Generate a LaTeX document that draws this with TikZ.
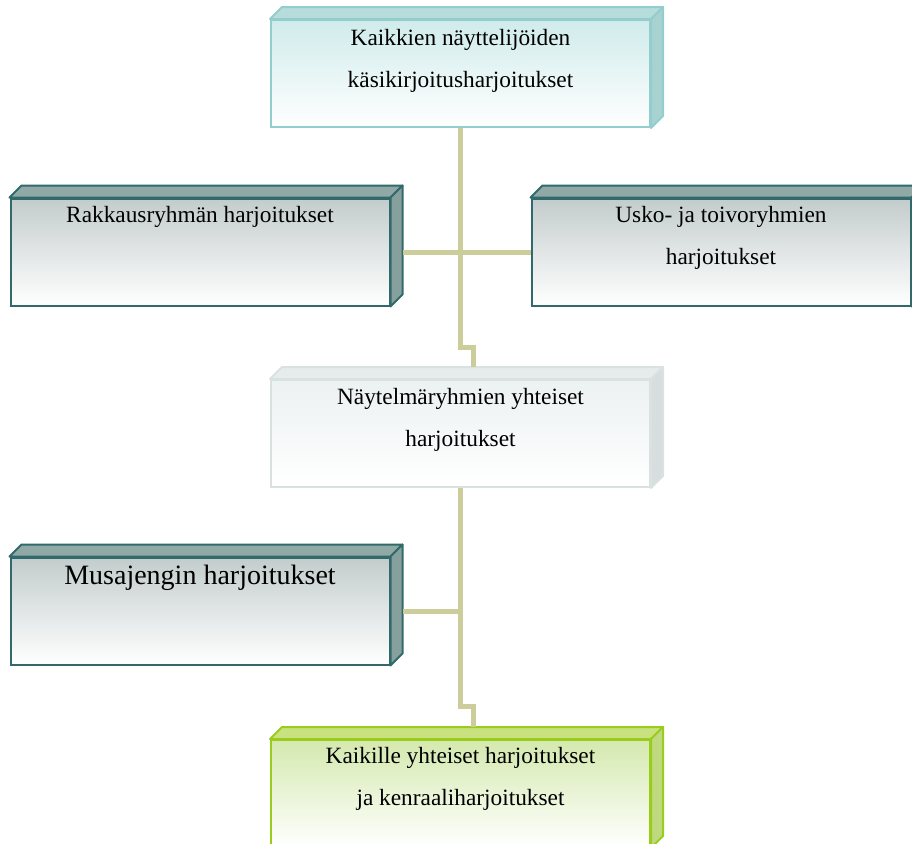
\documentclass[tikz,border=0pt]{standalone}
\usepackage{fontspec}
\setmainfont{Liberation Serif}
\usetikzlibrary{positioning, calc}

\definecolor{linkc}{HTML}{CDCC9B}
\definecolor{tealline}{HTML}{93CDCD}
\definecolor{tealtop}{HTML}{B6DDDC}
\definecolor{tealside}{HTML}{A8D2D1}
\definecolor{tealfront}{HTML}{D0EBEB}
\definecolor{darkline}{HTML}{32696A}
\definecolor{darktop}{HTML}{90A9A7}
\definecolor{darkside}{HTML}{86A09E}
\definecolor{darkfront}{HTML}{C3CCCC}
\definecolor{greyline}{HTML}{DAE1E1}
\definecolor{greytop}{HTML}{E6ECEC}
\definecolor{greyside}{HTML}{D8DEDE}
\definecolor{greyfront}{HTML}{ECF1F2}
\definecolor{greenline}{HTML}{9ACC1E}
\definecolor{greentop}{HTML}{C9E17E}
\definecolor{greenside}{HTML}{BFD97F}
\definecolor{greenfront}{HTML}{D4E9AE}

\newcommand{\slabtext}[3][17.5pt]{\parbox[c][80.25pt][t]{284.25pt}{\centering\fontsize{#1}{31.5pt}\selectfont\rule{0pt}{#2}#3}}
\newcommand{\slabfaces}[4]{% node, top face, side face, line
	\filldraw[draw=#4, fill=#2, line width=1.5pt, line join=round]
		(#1.north west) -- ++(12,-12) -- ($(#1.north east)+(12,-12)$) -- (#1.north east) -- cycle;
	\filldraw[draw=#4, fill=#3, line width=1.5pt, line join=round]
		(#1.north east) -- ++(12,-12) -- ($(#1.south east)+(12,-12)$) -- (#1.south east) -- cycle;
}

\tikzset{
	slab/.style={rectangle, inner sep=0pt, line width=1.5pt, bottom color=white},
	link/.style={draw=linkc, line width=3.75pt},
}

\begin{document}
\begin{tikzpicture}[x=0.75pt, y=-0.75pt, node distance=188.25pt]
	\useasboundingbox (0,0) rectangle (912,843);
	\clip (0,0) rectangle (912,843);

	\node[slab, draw=tealline, top color=tealfront]		(top)	at (460.5,73.5)		{\slabtext{19pt}{Kaikkien näyttelijöiden\\ käsikirjoitusharjoitukset}};
	\node[slab, draw=darkline, top color=darkfront]		(rak)	at (200,252)		{\slabtext{18.25pt}{Rakkausryhmän harjoitukset}};
	\node[slab, draw=darkline, top color=darkfront]		(usk)	at (721,252)		{\slabtext{18.25pt}{Usko- ja toivoryhmien\\ harjoitukset}};
	\node[slab, draw=greyline, top color=greyfront]		(nay)	[below=of top]		{\slabtext{18.25pt}{Näytelmäryhmien yhteiset\\ harjoitukset}};
	\node[slab, draw=darkline, top color=darkfront]		(mus)	at (200,611)		{\slabtext[21pt]{20.5pt}{Musajengin harjoitukset}};
	\node[slab, draw=greenline, top color=greenfront]	(kai)	[below=of nay]		{\slabtext{17.5pt}{Kaikille yhteiset harjoitukset\\ ja kenraaliharjoitukset}};

	\slabfaces{top}{tealtop}{tealside}{tealline}
	\slabfaces{rak}{darktop}{darkside}{darkline}
	\slabfaces{usk}{darktop}{darkside}{darkline}
	\slabfaces{nay}{greytop}{greyside}{greyline}
	\slabfaces{mus}{darktop}{darkside}{darkline}
	\slabfaces{kai}{greentop}{greenside}{greenline}

	\coordinate (j1) at ($(nay.north)+(13,-12)$);
	\coordinate (j2) at ($(kai.north)+(13,-12)$);

	% connectors
	\draw[link] (top.south) -- ++(0,219) -| (j1);
	\draw[link] ($(rak.east)+(12,0)$) -- (usk.west);
	\draw[link] (nay.south) -- ++(0,218) -| (j2);
	\draw[link] ($(mus.east)+(12,0)$) -- (mus.east -| nay.south);
\end{tikzpicture}
\end{document}
